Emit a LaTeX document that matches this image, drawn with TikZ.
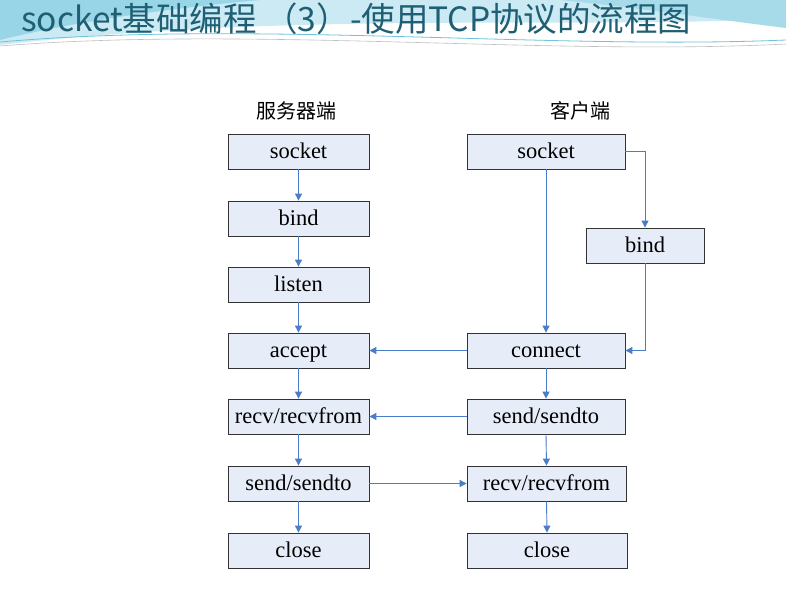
\documentclass[tikz,border=0pt]{standalone}
\usepackage{fontspec}
\setmainfont{Liberation Serif}
\newfontfamily\cjk{Noto Sans CJK SC}
\usetikzlibrary{arrows.meta}
\definecolor{boxfill}{HTML}{E7EDF8}
\definecolor{boxline}{HTML}{333333}
\definecolor{arrowc}{HTML}{4A7CC9}
\definecolor{titlec}{HTML}{1E5F73}
\definecolor{wave1}{HTML}{A9DCEB}
\definecolor{wave2}{HTML}{6CC3DB}
\begin{document}
\begin{tikzpicture}[x=1pt,y=-1pt,
  stepbox/.style={draw=boxline,line width=0.8pt,fill=boxfill,minimum height=35pt,inner sep=0pt,
    text height=16pt,text depth=3pt,font=\fontsize{22.5}{26}\selectfont},
  flow/.style={draw=arrowc,line width=0.9pt,-{Triangle[length=7pt,width=7pt]}}]
\useasboundingbox (0,0) rectangle (786,591);
\fill[white] (0,0) rectangle (786,591);
% header swoosh
\fill[wave1!60] (0,0) -- (786,0) -- (786,18) .. controls (600,30) and (300,10) .. (0,45) -- cycle;
\fill[wave2!70] (0,0) -- (260,0) .. controls (150,10) and (60,25) .. (0,40) -- cycle;
\fill[wave2!60] (560,0) -- (786,0) -- (786,28) .. controls (720,20) and (640,8) .. (560,0) -- cycle;
\draw[wave2,line width=0.8pt] (0,42) .. controls (250,20) and (550,50) .. (786,40);
\draw[gray!50,line width=0.6pt] (0,46) .. controls (250,26) and (550,56) .. (786,44);
\node[anchor=west,text=titlec,font=\cjk\fontsize{33.5}{36}\selectfont,inner sep=0pt] (title) at (21,19) {socket基础编程 （3）-使用TCP协议的流程图};
% column headings
\node[font=\cjk\fontsize{20}{23}\selectfont] (hs) at (296,111) {服务器端};
\node[font=\cjk\fontsize{20}{23}\selectfont] (hc) at (580,111) {客户端};
% server column
\node[stepbox,minimum width=141pt] (s1) at (298.5,151.5) {socket};
\node[stepbox,minimum width=141pt] (s2) at (298.5,218.5) {bind};
\node[stepbox,minimum width=141pt] (s3) at (298.5,284.5) {listen};
\node[stepbox,minimum width=141pt] (s4) at (298.5,350.5) {accept};
\node[stepbox,minimum width=141pt] (s5) at (298.5,416.5) {recv/recvfrom};
\node[stepbox,minimum width=141pt] (s6) at (298.5,483.5) {send/sendto};
\node[stepbox,minimum width=141pt] (s7) at (298.5,550.5) {close};
% client column
\node[stepbox,minimum width=158pt] (c1) at (546,151.5) {socket};
\node[stepbox,minimum width=118pt] (c2) at (645,245.5) {bind};
\node[stepbox,minimum width=158pt] (c3) at (546,350.5) {connect};
\node[stepbox,minimum width=158pt] (c4) at (546,416.5) {send/sendto};
\node[stepbox,minimum width=159pt] (c5) at (546.5,483.5) {recv/recvfrom};
\node[stepbox,minimum width=160pt] (c6) at (547,550.5) {close};
% server arrows
\draw[flow] (s1) -- (s2);
\draw[flow] (s2) -- (s3);
\draw[flow] (s3) -- (s4);
\draw[flow] (s4) -- (s5);
\draw[flow] (s5) -- (s6);
\draw[flow] (s6) -- (s7);
% client arrows
\draw[flow] (c1.south) -- (c3.north);
\draw[flow] (c1.east) -| (c2.north);
\draw[flow] (c2.south) |- (c3.east);
\draw[flow] (c3.south) -- (c4.north);
\draw[flow] (c4.south) -- (c5.north);
\draw[flow] (c5.south) -- (c6.north);
% cross arrows
\draw[flow] (c3.west) -- (s4.east);
\draw[flow] (c4.west) -- (s5.east);
\draw[flow] (s6.east) -- (c5.west);
\end{tikzpicture}
\end{document}
